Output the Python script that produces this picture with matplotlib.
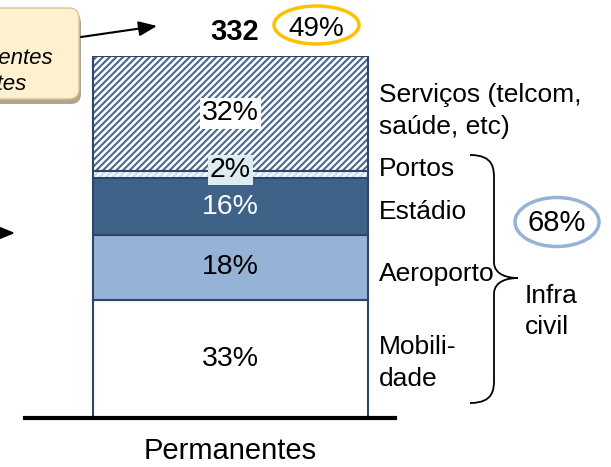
import matplotlib
matplotlib.use("Agg")
import matplotlib.pyplot as plt
from matplotlib.patches import Ellipse, FancyBboxPatch, PathPatch
from matplotlib.path import Path
import numpy as np

plt.rcParams['font.family'] = ['Liberation Sans', 'DejaVu Sans']
plt.rcParams['hatch.linewidth'] = 1.5

# ---- data ----
category = "Permanentes"
segments = ["Mobilidade", "Aeroporto", "Estádio", "Portos", "Serviços"]
values = [33, 18, 16, 2, 32]          # % of total
seg_labels = ["33%", "18%", "16%", "2%", "32%"]
total_label = "332"
share_top = "49%"
share_infra = "68%"

W, H = 611, 467
fig = plt.figure(figsize=(W / 100, H / 100), dpi=100)

# bar axes: spans x 25..395 px, y 418 (0) .. 56 (total)
total = sum(values)
ax = fig.add_axes([25 / W, (H - 418) / H, 370 / W, 362 / H])
ax.set_xlim(-(230.5 - 25) / 275, (395 - 230.5) / 275)
ax.set_ylim(0, total)

edge = '#2C4668'
face = ['#FFFFFF', '#95B3D7', '#3F6289', '#D3E0EE', '#FFFFFF']
hatch = [None, None, None, '/////', '/////']
hcol = [None, None, None, '#FFFFFF', '#46668D']
bottoms = np.concatenate([[0], np.cumsum(values)[:-1]])
for i, (v, b) in enumerate(zip(values, bottoms)):
    if hatch[i]:
        ax.bar(0, v, bottom=b, width=1, color=face[i], edgecolor=hcol[i],
               hatch=hatch[i], linewidth=0, zorder=2)
        ax.bar(0, v, bottom=b, width=1, fill=False, edgecolor=edge,
               linewidth=1.5, zorder=3)
    else:
        ax.bar(0, v, bottom=b, width=1, color=face[i], edgecolor=edge,
               linewidth=1.5, zorder=2)

txt_col = ['black', 'black', 'white', 'black', 'black']
box_fc = [None, None, None, '#DDEBF3', 'white']
for i, (v, b) in enumerate(zip(values, bottoms)):
    yc = b + v / 2
    if i == 3:
        yc = b + v / 2 + 1.2
    kw = {}
    if box_fc[i]:
        kw['bbox'] = dict(boxstyle='square,pad=0.08', fc=box_fc[i], ec='none')
    ax.text(0, yc, seg_labels[i], ha='center', va='center', fontsize=20.5,
            color=txt_col[i], zorder=5, **kw)

for s in ['top', 'right', 'left']:
    ax.spines[s].set_visible(False)
ax.spines['bottom'].set_linewidth(3)
ax.spines['bottom'].set_zorder(6)
ax.set_yticks([])
ax.set_xticks([0], [category], fontsize=21)
ax.tick_params(axis='x', length=0, pad=14)
ax.patch.set_alpha(0)

# overlay axes in pixel coords
ov = fig.add_axes([0, 0, 1, 1])
ov.set_xlim(0, W)
ov.set_ylim(H, 0)
ov.axis('off')
ov.patch.set_alpha(0)

# callout box (partially off-canvas)
ov.add_patch(FancyBboxPatch((-150 + 3, 10 + 3), 228, 91,
                            boxstyle='round,pad=0,rounding_size=10',
                            fc='#B0A68E', ec='none', zorder=1))
ov.add_patch(FancyBboxPatch((-150, 8), 229, 91,
                            boxstyle='round,pad=0,rounding_size=10',
                            fc='#FFF0CF', ec='#D8C49A', lw=1, zorder=2))
ov.text(53, 58, "Investimentos recorrentes", ha='right', va='center',
        fontsize=16, style='italic', zorder=3)
ov.text(27, 85, "Permanentes", ha='right', va='center',
        fontsize=16, style='italic', zorder=3)

# arrows
ov.annotate('', xy=(157, 26), xytext=(81, 37),
            arrowprops=dict(arrowstyle='-|>,head_length=1.1,head_width=0.45',
                            color='black', lw=1.5, shrinkA=0, shrinkB=0))
ov.annotate('', xy=(15, 233), xytext=(-30, 233),
            arrowprops=dict(arrowstyle='-|>,head_length=1.1,head_width=0.45',
                            color='black', lw=1.5, shrinkA=0, shrinkB=0))

# top labels
ov.text(235, 32, total_label, ha='center', va='center', fontsize=21,
        fontweight='bold')
ov.text(316, 29, share_top, ha='center', va='center', fontsize=20)
ov.add_patch(Ellipse((316.5, 25), 85, 38, fill=False, ec='#FFC000', lw=2.5))

# right labels
rl = [("Serviços (telcom,", 95), ("saúde, etc)", 127), ("Portos", 169),
      ("Estádio", 212), ("Aeroporto", 274), ("Mobili-", 347), ("dade", 379)]
for t, y in rl:
    ov.text(379, y, t, ha='left', va='center', fontsize=19)
ov.text(525, 296, "Infra", ha='left', va='center', fontsize=19)
ov.text(525, 327, "civil", ha='left', va='center', fontsize=19)

# 68% ellipse
ov.text(557, 223, share_infra, ha='center', va='center', fontsize=21)
ov.add_patch(Ellipse((557, 222), 84, 49, fill=False, ec='#95B3D7', lw=2.5))

# curly brace
xl, xm, xt = 470, 494, 518
yt, ym, yb = 155, 278, 403
verts = [(xl, yt), (xm, yt), (xm, yt + 14), (xm, yt + 24),
         (xm, ym - 16),
         (xm, ym - 2), (xt - 8, ym), (xt, ym),
         (xt - 8, ym), (xm, ym + 2), (xm, ym + 16),
         (xm, yb - 24),
         (xm, yb - 14), (xm, yb), (xl, yb)]
codes = [Path.MOVETO, Path.CURVE4, Path.CURVE4, Path.CURVE4,
         Path.LINETO,
         Path.CURVE4, Path.CURVE4, Path.CURVE4,
         Path.CURVE4, Path.CURVE4, Path.CURVE4,
         Path.LINETO,
         Path.CURVE4, Path.CURVE4, Path.CURVE4]
ov.add_patch(PathPatch(Path(verts, codes), fill=False, ec='black', lw=1.3))

fig.savefig('out.png', dpi=100)
